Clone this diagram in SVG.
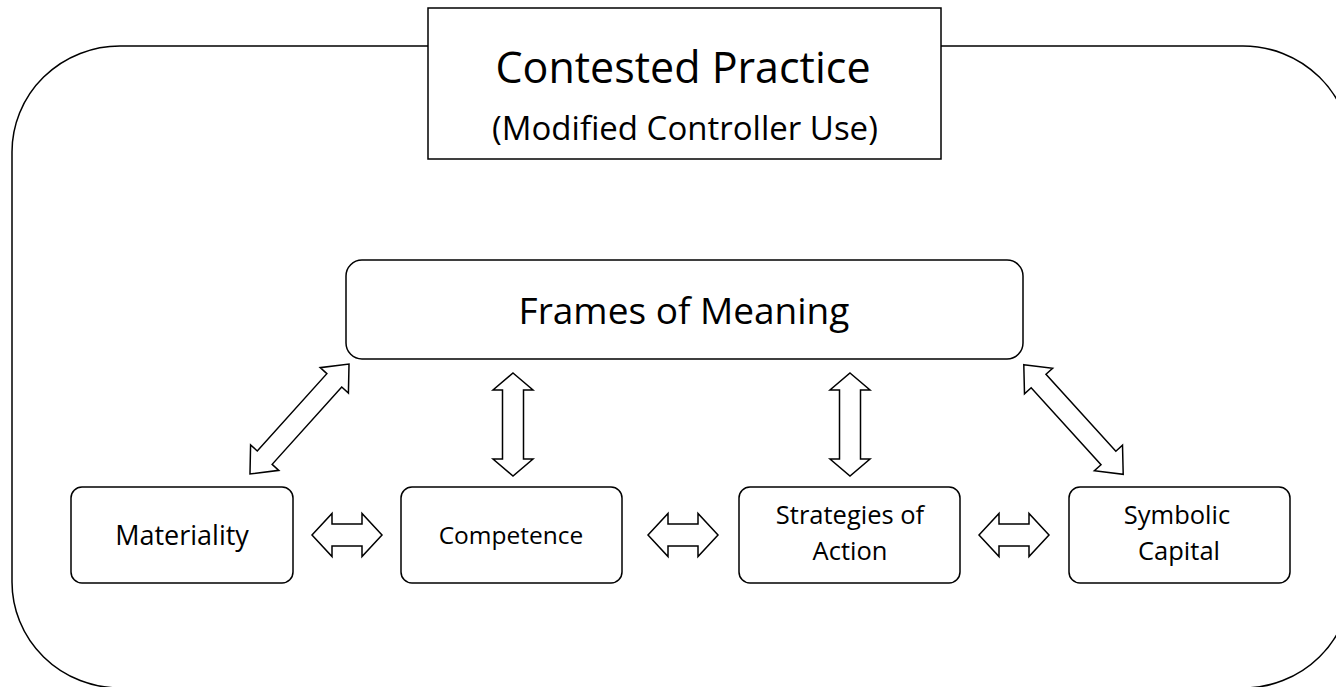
<svg xmlns="http://www.w3.org/2000/svg" width="1336" height="687" viewBox="0 0 1336 687">
<style>
.box{fill:#fff;stroke:#000;stroke-width:1.5}
.arr{fill:#fff;stroke:#000;stroke-width:1.5;stroke-linejoin:miter}
text{font-family:"Open Sans","Noto Sans",sans-serif;fill:#000;text-anchor:middle}
.lbl{font-size:27px}
.lbl2{font-size:25.5px}
</style>
<rect width="1336" height="687" fill="#fff"/>
<g id="outer"><rect class="box" x="12" y="46" width="1339" height="642" rx="108" ry="106"/></g>
<g id="title">
<rect class="box" x="428" y="8" width="513" height="151"/>
<text x="683" y="83" font-size="43">Contested Practice</text>
<text x="685" y="140" font-size="33">(Modified Controller Use)</text>
</g>
<g id="frames">
<rect class="box" x="346" y="260" width="677" height="99" rx="16"/>
<text x="684" y="324" font-size="37">Frames of Meaning</text>
</g>
<g id="materiality">
<rect class="box" x="71" y="487" width="222" height="96" rx="11"/>
<text class="lbl" x="182" y="545">Materiality</text>
</g>
<g id="competence">
<rect class="box" x="401" y="487" width="221" height="96" rx="11"/>
<text x="511" y="544" font-size="24.5">Competence</text>
</g>
<g id="strategies">
<rect class="box" x="739" y="487" width="221" height="96" rx="11"/>
<text class="lbl2" x="850" y="524">Strategies of</text>
<text class="lbl2" x="850" y="560">Action</text>
</g>
<g id="symbolic">
<rect class="box" x="1069" y="487" width="221" height="96" rx="11"/>
<text class="lbl2" x="1177" y="524">Symbolic</text>
<text class="lbl2" x="1179" y="560">Capital</text>
</g>
<g id="connectors">
<polygon class="arr" transform="translate(347,535)" points="-35,0 -15,-21.5 -15,-11 15,-11 15,-21.5 35,0 15,21.5 15,11 -15,11 -15,21.5"/>
<polygon class="arr" transform="translate(683,535)" points="-35,0 -15,-21.5 -15,-11 15,-11 15,-21.5 35,0 15,21.5 15,11 -15,11 -15,21.5"/>
<polygon class="arr" transform="translate(1014,535)" points="-35,0 -15,-21.5 -15,-11 15,-11 15,-21.5 35,0 15,21.5 15,11 -15,11 -15,21.5"/>
<polygon class="arr" transform="translate(513,424.5) rotate(90)" points="-51.5,0 -34.5,-20 -34.5,-10.5 34.5,-10.5 34.5,-20 51.5,0 34.5,20 34.5,10.5 -34.5,10.5 -34.5,20"/>
<polygon class="arr" transform="translate(850,424.5) rotate(90)" points="-51.5,0 -34.5,-20 -34.5,-10.5 34.5,-10.5 34.5,-20 51.5,0 34.5,20 34.5,10.5 -34.5,10.5 -34.5,20"/>
<polygon class="arr" transform="translate(299.5,419) rotate(-48)" points="-74,0 -52,-19 -52,-10 52,-10 52,-19 74,0 52,19 52,10 -52,10 -52,19"/>
<polygon class="arr" transform="translate(1073.5,419.5) rotate(47.8)" points="-74,0 -52,-19 -52,-10 52,-10 52,-19 74,0 52,19 52,10 -52,10 -52,19"/>
</g>
</svg>
